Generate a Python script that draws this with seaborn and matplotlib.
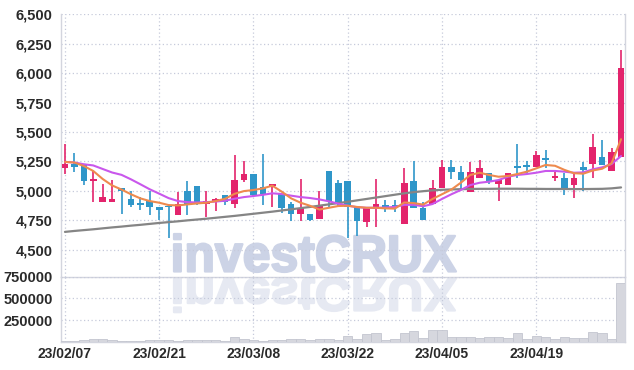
import matplotlib
matplotlib.use("Agg")
import matplotlib.pyplot as plt
from matplotlib import font_manager
from matplotlib.font_manager import FontProperties
from matplotlib.textpath import TextPath
from matplotlib.patches import PathPatch
from matplotlib.transforms import Affine2D, IdentityTransform
from matplotlib.ticker import FuncFormatter
import numpy as np
import pandas as pd
import seaborn as sns

# KRX trading days shown (holidays: 3/1, 5/1)
holidays = ["2023-03-01", "2023-05-01"]
dates = pd.bdate_range("2023-02-07", "2023-05-03")
dates = dates[~dates.isin(pd.to_datetime(holidays))]

opens = [5190, 5230, 5220, 5080, 4900, 4900, 5020, 4930, 4885, 4910,
         4865, 4870, 4790, 5000, 5040, 4890, 4900, 4960, 4885, 5090,
         5140, 5030, 5040, 4975, 4884, 4800, 4805, 4760, 5170, 5065,
         5085, 4860, 4735, 4845, 4880, 4875, 4715, 5080, 4855, 4885,
         5025, 5200, 5160, 4985, 5110, 5150, 5055, 5045, 5205, 5220,
         5205, 5275, 5110, 5105, 5045, 5205, 5225, 5290, 5165, 5285]
highs = [5400, 5320, 5220, 5170, 5060, 5090, 5020, 5000, 4950, 5000,
         4865, 4870, 4990, 5080, 5040, 5000, 4940, 4960, 5300, 5250,
         5140, 5310, 5055, 4975, 4900, 5100, 4805, 5000, 5170, 5090,
         5085, 4860, 4860, 5100, 4925, 4920, 5190, 5250, 4900, 5090,
         5260, 5260, 5210, 5245, 5260, 5150, 5090, 5150, 5400, 5255,
         5340, 5345, 5175, 5150, 5150, 5240, 5485, 5435, 5365, 6195]
lows = [5140, 5160, 5050, 4900, 4900, 4900, 4800, 4860, 4840, 4790,
        4750, 4600, 4790, 4790, 4880, 4780, 4830, 4880, 4850, 5075,
        4955, 4875, 4865, 4810, 4740, 4740, 4745, 4760, 4855, 4865,
        4600, 4615, 4695, 4695, 4815, 4820, 4715, 4850, 4755, 4885,
        5025, 5100, 5015, 4985, 5110, 5060, 4910, 5045, 5110, 5140,
        5205, 5195, 5080, 4965, 4940, 5000, 5110, 5215, 5165, 5285]
closes = [5230, 5200, 5080, 5100, 4950, 4930, 5000, 4880, 4880, 4860,
          4840, 4860, 4890, 4875, 4890, 4910, 4930, 4900, 5095, 5140,
          4960, 4970, 5055, 4850, 4800, 4850, 4755, 4880, 4910, 4905,
          4865, 4740, 4860, 4885, 4850, 4855, 5065, 4850, 4755, 5025,
          5200, 5160, 5090, 5155, 5190, 5070, 5090, 5150, 5195, 5205,
          5305, 5260, 5120, 5015, 5105, 5180, 5370, 5215, 5330, 6045]
volume = [12000, 12000, 16000, 28000, 36000, 24000, 12000, 12000, 5000, 24000,
          16000, 24000, 5000, 24000, 16000, 24000, 16000, 5000, 60000, 28000,
          16000, 12000, 20000, 16000, 28000, 36000, 16000, 36000, 32000, 24000,
          71000, 36000, 87000, 95000, 24000, 36000, 99000, 123000, 48000, 135000,
          135000, 60000, 60000, 60000, 48000, 60000, 60000, 48000, 99000, 36000,
          71000, 60000, 36000, 60000, 48000, 48000, 107000, 95000, 32000, 680000]

# moving averages as drawn (short / mid / long)
ma_short = [5245, 5240, 5210, 5168, 5100, 5045, 5010, 4970, 4935, 4912,
            4898, 4878, 4875, 4884, 4892, 4898, 4912, 4932, 4974, 4997,
            5006, 5020, 5043, 4992, 4935, 4898, 4872, 4840, 4855, 4870,
            4872, 4862, 4855, 4855, 4850, 4848, 4900, 4895, 4882, 4930,
            4970, 5010, 5068, 5134, 5153, 5134, 5119, 5125, 5142, 5162,
            5190, 5219, 5212, 5177, 5149, 5145, 5172, 5187, 5234, 5438]
ma_mid = [5245, 5240, 5225, 5215, 5185, 5155, 5135, 5097, 5055, 5012,
          4975, 4937, 4912, 4903, 4900, 4903, 4908, 4915, 4932, 4946,
          4955, 4965, 4978, 4972, 4958, 4946, 4938, 4926, 4910, 4890,
          4873, 4860, 4855, 4855, 4857, 4862, 4880, 4880, 4868, 4887,
          4930, 4970, 5006, 5048, 5068, 5077, 5091, 5119, 5134, 5142,
          5153, 5168, 5168, 5162, 5153, 5156, 5182, 5199, 5227, 5295]
ma_long = [4650, 4658, 4665, 4672, 4680, 4688, 4695, 4703, 4710, 4718,
           4726, 4733, 4740, 4748, 4755, 4762, 4770, 4778, 4786, 4795,
           4804, 4813, 4822, 4832, 4842, 4852, 4862, 4873, 4884, 4895,
           4906, 4918, 4930, 4942, 4954, 4966, 4978, 4988, 4996, 5003,
           5008, 5011, 5013, 5015, 5016, 5016, 5017, 5017, 5017, 5016,
           5016, 5015, 5015, 5015, 5014, 5014, 5015, 5016, 5020, 5028]

price_ticks = [4500, 4750, 5000, 5250, 5500, 5750, 6000, 6250, 6500]
volume_ticks = [250000, 500000, 750000]

RED = "#e3246c"
BLUE = "#2f96c9"
GRID = "#c6cadb"
EDGE = "#d3d5de"
MARK = "#ccd3e6"

sns.set_style("white")
names = {f.name for f in font_manager.fontManager.ttflist}
tick_font = "Liberation Sans Narrow" if "Liberation Sans Narrow" in names else "Liberation Sans"
plt.rcParams["font.family"] = [tick_font, "DejaVu Sans"]

W, H = 634, 370
fig = plt.figure(figsize=(W / 100, H / 100), dpi=100)
fig.patch.set_facecolor("white")
x0, x1 = 61, 625
ax = fig.add_axes([x0 / W, 1 - 276.7 / H, (x1 - x0) / W, (276.7 - 14.3) / H])
axv = fig.add_axes([x0 / W, 1 - 341.7 / H, (x1 - x0) / W, (341.7 - 276.7) / H], sharex=ax)

# watermark + reflection
fp = FontProperties(family="Liberation Sans", weight="bold")
tp = TextPath((0, 0), "investCRUX", size=100, prop=fp)
bb = tp.get_extents()
sx = (456 - 174) / bb.width
sy = (272 - 234) / bb.height
tr = Affine2D().translate(-bb.x0, -bb.y0).scale(sx, sy).translate(174, H - 272)
fig.add_artist(PathPatch(tr.transform_path(tp), facecolor=MARK, edgecolor=MARK,
                         linewidth=1.6, joinstyle="round",
                         transform=IdentityTransform(), zorder=-2))
tr2 = Affine2D().translate(-bb.x0, -bb.y0).scale(sx, -sy * 0.9).translate(174, H - 278)
fig.add_artist(PathPatch(tr2.transform_path(tp), facecolor="#e6e9f2", edgecolor="#e6e9f2",
                         linewidth=1.6, joinstyle="round",
                         transform=IdentityTransform(), zorder=-2))

for a in (ax, axv):
    a.set_facecolor("none")

idx = np.arange(len(closes))
o = np.array(opens)
c = np.array(closes)
colors = np.where(c >= o, RED, BLUE)
ax.vlines(idx, lows, highs, colors=colors, linewidth=1.2, zorder=3)
ax.bar(idx, np.maximum(np.abs(c - o), 14), bottom=np.minimum(o, c), width=0.7,
       color=colors, linewidth=0, zorder=4)

sns.lineplot(x=idx, y=ma_long, ax=ax, color="#858585", linewidth=1.6, zorder=5)
sns.lineplot(x=idx, y=ma_mid, ax=ax, color="#c957ec", linewidth=1.5, zorder=5)
sns.lineplot(x=idx, y=ma_short, ax=ax, color="#ee8a4e", linewidth=1.5, zorder=6)

axv.bar(idx, volume, width=1.0, color="#d6d7de", edgecolor="#c3c5cf", linewidth=0.6, zorder=3)

ax.set_ylim(4269, 6500)
ax.set_yticks(price_ticks)
ax.yaxis.set_major_formatter(FuncFormatter(lambda v, p: f"{v:,.0f}"))
axv.set_ylim(0, 750000)
axv.set_yticks(volume_ticks)
axv.yaxis.set_major_formatter(FuncFormatter(lambda v, p: f"{v:.0f}"))

ax.set_xlim(-0.42, len(idx) - 0.58)
tick_pos = idx[::10]
axv.set_xticks(tick_pos)
axv.set_xticklabels([dates[i].strftime("%y/%m/%d") for i in tick_pos])
ax.tick_params(axis="x", labelbottom=False, length=0)

for a in (ax, axv):
    a.grid(True, color=GRID, linestyle=(0, (1, 2)), linewidth=0.9)
    a.set_axisbelow(True)
    a.tick_params(axis="y", length=0, pad=6, labelsize=10.5, labelcolor="#2a2a2a")
    a.tick_params(axis="x", length=0, pad=4, labelsize=10, labelcolor="#2a2a2a")
    for lab in a.get_xticklabels() + a.get_yticklabels():
        lab.set_fontweight("bold")
    for s in a.spines.values():
        s.set_color(EDGE)
        s.set_linewidth(1)
    a.set_xlabel("")
    a.set_ylabel("")
ax.spines["top"].set_visible(False)
axv.spines["top"].set_visible(False)

fig.savefig("out.png", dpi=100)
